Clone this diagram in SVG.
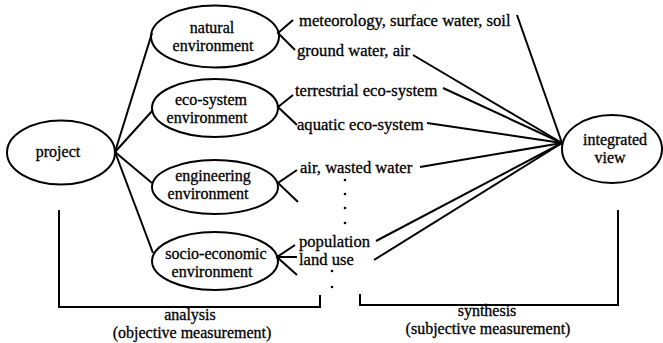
<svg xmlns="http://www.w3.org/2000/svg" width="663" height="343" viewBox="0 0 663 343" font-family="Liberation Serif, Times New Roman, DejaVu Serif, serif" font-size="16">
<style>
text{font-family:'Liberation Serif','Times New Roman','DejaVu Serif',serif;font-size:16px;fill:#000;stroke:#000;stroke-width:0.3}
.m{text-anchor:middle}
.lf{font-size:16.6px}
ellipse{fill:none;stroke:#000;stroke-width:2}
line,polyline{stroke:#000;stroke-width:2;fill:none}
.dot{fill:#000}
</style>
<rect width="663" height="343" fill="#fff"/>
<g id="connectors">
<line x1="115" y1="152" x2="152" y2="33"/>
<line x1="115" y1="152" x2="153" y2="110"/>
<line x1="115" y1="152" x2="152" y2="183"/>
<line x1="115" y1="152" x2="153" y2="253"/>
<polyline points="293,20 278,33 295,50"/>
<polyline points="293,95 278,107 297,125"/>
<polyline points="297,170 278,183 298,202"/>
<polyline points="295,245 277,257 297,275"/>
<line x1="277" y1="257" x2="297" y2="257"/>
<line x1="562" y1="143" x2="517" y2="15"/>
<line x1="562" y1="143" x2="413" y2="55"/>
<line x1="562" y1="143" x2="443" y2="88"/>
<line x1="562" y1="143" x2="427" y2="123"/>
<line x1="562" y1="143" x2="420" y2="167"/>
<line x1="562" y1="143" x2="376" y2="241"/>
<line x1="562" y1="143" x2="374" y2="260"/>
</g>
<g id="project"><ellipse cx="61" cy="152.5" rx="54" ry="32"/><text class="m" x="58" y="157">project</text></g>
<g id="natural"><ellipse cx="215" cy="36.5" rx="64" ry="31"/><text class="m" x="212" y="33">natural</text><text class="m" x="213" y="51">environment</text></g>
<g id="eco"><ellipse cx="215" cy="108" rx="63" ry="29"/><text class="m" x="211" y="105">eco-system</text><text class="m" x="207" y="123">environment</text></g>
<g id="engineering"><ellipse cx="215" cy="187" rx="63" ry="27"/><text class="m" x="213" y="181">engineering</text><text class="m" x="208" y="199">environment</text></g>
<g id="socio"><ellipse cx="215" cy="261" rx="63" ry="29"/><text class="m" x="216" y="259">socio-economic</text><text class="m" x="212" y="277">environment</text></g>
<g id="integrated"><ellipse cx="612" cy="149" rx="50" ry="34"/><text class="m" x="615" y="145">integrated</text><text class="m" x="610" y="163">view</text></g>
<g id="leaves">
<text class="lf" x="299" y="26">meteorology, surface water, soil</text>
<text class="lf" x="297" y="56">ground water, air</text>
<text class="lf" x="295" y="96">terrestrial eco-system</text>
<text class="lf" x="297" y="130">aquatic eco-system</text>
<text class="lf" x="300" y="173">air, wasted water</text>
<text class="lf" x="299" y="247">population</text>
<text class="lf" x="299" y="265">land use</text>
</g>
<g id="dots">
<circle class="dot" cx="345" cy="180" r="1.3"/>
<circle class="dot" cx="345" cy="194" r="1.3"/>
<circle class="dot" cx="345" cy="208" r="1.3"/>
<circle class="dot" cx="345" cy="223" r="1.3"/>
<circle class="dot" cx="332" cy="271" r="1.3"/>
<circle class="dot" cx="332" cy="287" r="1.3"/>
</g>
<g id="brackets">
<polyline points="59,210 59,307 320,307 320,295"/>
<polyline points="360,294 360,305 618,305 618,210"/>
<text class="m" x="190" y="320">analysis</text>
<text class="m" x="192" y="338">(objective measurement)</text>
<text class="m" x="487" y="316">synthesis</text>
<text class="m" x="488" y="334">(subjective measurement)</text>
</g>
</svg>
